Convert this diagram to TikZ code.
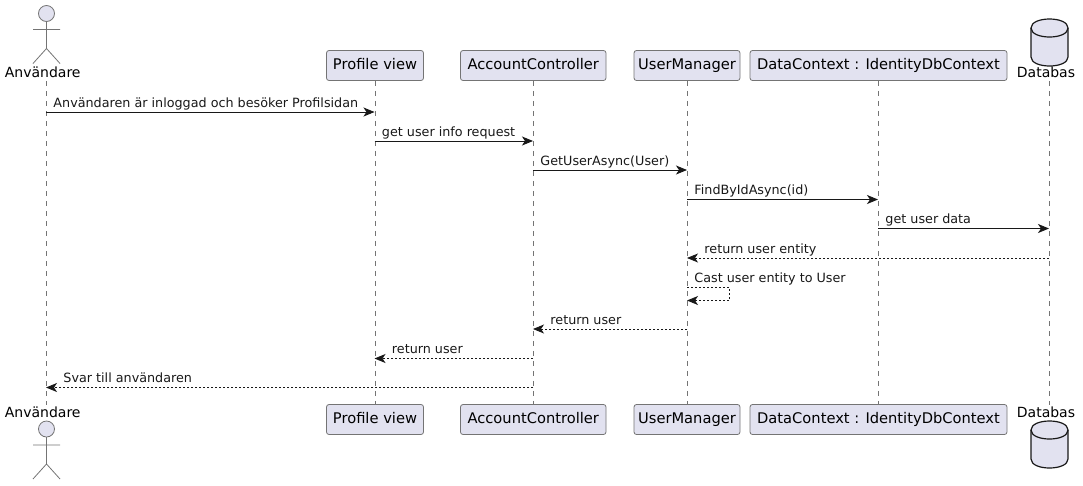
\documentclass[tikz,border=0pt]{standalone}
\usepackage{fontspec}
\setmainfont{DejaVu Sans}
\usetikzlibrary{arrows.meta}
\definecolor{umlfill}{HTML}{E2E2F0}
\definecolor{umlline}{HTML}{181818}
\tikzset{
  part/.style={draw=umlline!60,line width=0.8pt,fill=umlfill,rounded corners=2.5pt,inner sep=0pt,
    minimum height=30pt,text height=11pt,text depth=3pt,font=\fontsize{14.67}{16}\selectfont},
  partlabel/.style={inner sep=0pt,minimum height=16pt,text height=12pt,text depth=3pt,font=\fontsize{14}{16}\selectfont},
  life/.style={umlline!60,line width=0.5pt,dash pattern=on 5pt off 5pt},
  msg/.style={umlline,line width=0.9pt,-{Stealth[length=11pt,width=9pt,inset=3pt]}},
  dmsg/.style={msg,dash pattern=on 2pt off 2pt},
  lblright/.style={pos=0,anchor=base west,xshift=7pt,yshift=5pt,inner sep=0pt,font=\fontsize{12.75}{15}\selectfont},
  lblleft/.style={pos=1,anchor=base west,xshift=17pt,yshift=5pt,inner sep=0pt,font=\fontsize{12.75}{15}\selectfont},
  actorfig/.pic={
    \draw[umlline!60,line width=0.8pt,fill=umlfill] (0,-8) circle (8);
    \draw[umlline!60,line width=0.8pt] (0,0) -- (0,27) (-13.5,8) -- (13.5,8) (-13.5,42) -- (0,27) -- (13.5,42);
  },
  dbfig/.pic={
    \draw[umlline,line width=1.2pt,fill=umlfill] (-18.5,9) .. controls (-18.5,-3) and (18.5,-3) .. (18.5,9)
      -- (18.5,38) .. controls (18.5,50) and (-18.5,50) .. (-18.5,38) -- cycle;
    \draw[umlline,line width=1.2pt] (-18.5,9) .. controls (-18.5,21) and (18.5,21) .. (18.5,9);
  }
}
\begin{document}
\begin{tikzpicture}[x=1pt,y=-1pt]
  \useasboundingbox (0,0) rectangle (1083,485);
  % top row
  \pic at (46.5,21.5) {actorfig};
  \node[partlabel] (user) at (42.7,73) {Användare};
  \node[part,minimum width=97pt] (profile) at (375,65.5) {Profile view};
  \node[part,minimum width=145.5pt] (account) at (533.25,65.5) {AccountController};
  \node[part,minimum width=106pt] (manager) at (687,65.5) {UserManager};
  \node[part,minimum width=257pt] (context) at (878.5,65.5) {DataContext : IdentityDbContext};
  \pic at (1049.5,19) {dbfig};
  \node[partlabel] (db) at (1046,73) {Databas};
  % bottom row
  \node[partlabel] (userb) at (42.7,413) {Användare};
  \pic at (46.5,437) {actorfig};
  \node[part,minimum width=97pt] (profileb) at (375,419.5) {Profile view};
  \node[part,minimum width=145.5pt] (accountb) at (533.25,419.5) {AccountController};
  \node[part,minimum width=106pt] (managerb) at (687,419.5) {UserManager};
  \node[part,minimum width=257pt] (contextb) at (878.5,419.5) {DataContext : IdentityDbContext};
  \node[partlabel] (dbb) at (1046,413) {Databas};
  \pic at (1049.5,421) {dbfig};
  % lifelines
  \coordinate (usertop) at (46,81);
  \coordinate (userend) at (46,405);
  \coordinate (dbtop) at (1049.5,81);
  \coordinate (dbend) at (1049.5,405);
  \draw[life] (usertop) -- (userend);
  \draw[life] (profile.south) -- (profileb.north);
  \draw[life] (account.south) -- (accountb.north);
  \draw[life] (manager.south) -- (managerb.north);
  \draw[life] (context.south) -- (contextb.north);
  \draw[life] (dbtop) -- (dbend);
  % message ends
  \coordinate (m1a) at (46,112);     \coordinate (m1b) at (374.5,112);
  \coordinate (m2a) at (374.5,141);  \coordinate (m2b) at (533,141);
  \coordinate (m3a) at (533,170);    \coordinate (m3b) at (687,170);
  \coordinate (m4a) at (687,199.5);  \coordinate (m4b) at (878,199.5);
  \coordinate (m5a) at (878,228.5);  \coordinate (m5b) at (1049,228.5);
  \coordinate (m6a) at (1049,258);   \coordinate (m6b) at (687,258);
  \coordinate (m7a) at (687,287.5);  \coordinate (m7b) at (729.5,287.5);
  \coordinate (m7c) at (729.5,300.5); \coordinate (m7d) at (687,300.5);
  \coordinate (m8a) at (687,329);    \coordinate (m8b) at (533,329);
  \coordinate (m9a) at (533,358.5);  \coordinate (m9b) at (374.5,358.5);
  \coordinate (m10a) at (533,387.5); \coordinate (m10b) at (46,387.5);
  % messages
  \draw[msg] (m1a) -- node[lblright] (t1) {Användaren är inloggad och besöker Profilsidan} (m1b);
  \draw[msg] (m2a) -- node[lblright] (t2) {get user info request} (m2b);
  \draw[msg] (m3a) -- node[lblright] (t3) {GetUserAsync(User)} (m3b);
  \draw[msg] (m4a) -- node[lblright] (t4) {FindByIdAsync(id)} (m4b);
  \draw[msg] (m5a) -- node[lblright] (t5) {get user data} (m5b);
  \draw[dmsg] (m6a) -- node[lblleft] (t6) {return user entity} (m6b);
  \draw[dmsg] (m7a) -- node[lblright] (t7) {Cast user entity to User} (m7b) -- (m7c) -- (m7d);
  \draw[dmsg] (m8a) -- node[lblleft] (t8) {return user} (m8b);
  \draw[dmsg] (m9a) -- node[lblleft] (t9) {return user} (m9b);
  \draw[dmsg] (m10a) -- node[lblleft] (t10) {Svar till användaren} (m10b);
\end{tikzpicture}
\end{document}
